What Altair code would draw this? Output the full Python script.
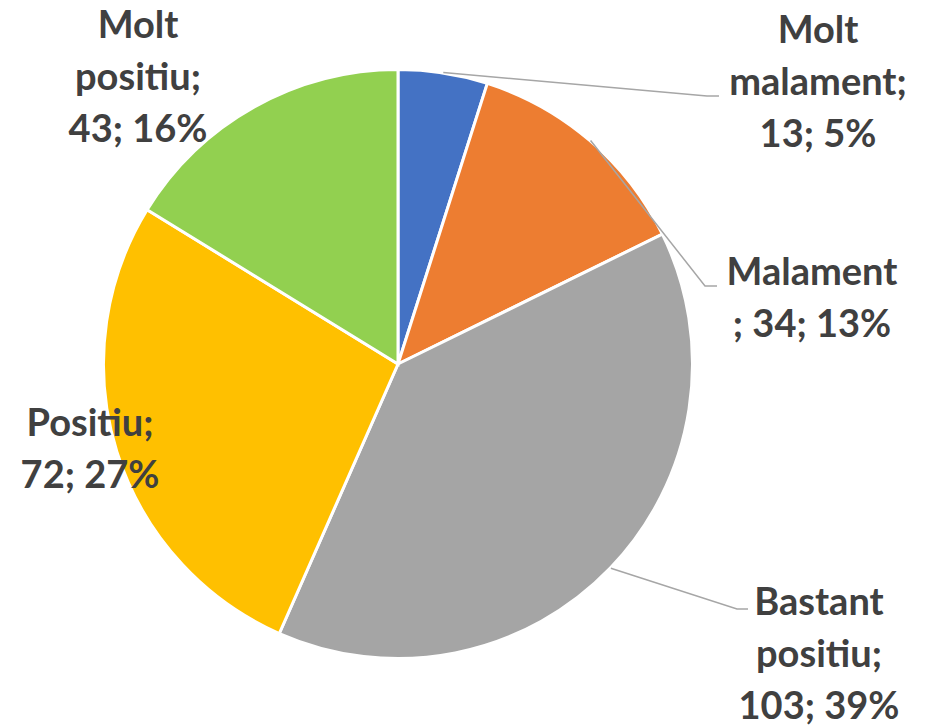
import math
import altair as alt
import pandas as pd

# ---- data ----
categories = ["Molt malament", "Malament", "Bastant positiu", "Positiu", "Molt positiu"]
values = [13, 34, 103, 72, 43]
colors = ["#4472C4", "#ED7D31", "#A5A5A5", "#FFC000", "#92D050"]

total = sum(values)
pcts = [round(v / total * 100) for v in values]

# label wrapping as in the original (text lines)
label_lines = {
    "Molt malament": ["Molt", "malament;", "{v}; {p}%"],
    "Malament": ["Malament", "; {v}; {p}%"],
    "Bastant positiu": ["Bastant", "positiu;", "{v}; {p}%"],
    "Positiu": ["Positiu;", "{v}; {p}%"],
    "Molt positiu": ["Molt", "positiu;", "{v}; {p}%"],
}

# ---- layout (pixels in the chart area) ----
W, H = 921, 719
CX, CY = 390, 356          # pie centre
R = 294.5                  # outer radius (incl. white border)
LEADER_R = 295             # leader start radius
label_pos = {              # label centre x, first baseline y
    "Molt malament": (810, 35),
    "Malament": (804, 277),
    "Bastant positiu": (811, 607),
    "Positiu": (82, 428),
    "Molt positiu": (130, 30),
}
leader_elbow = {           # elbow point and end x of leader lines
    "Molt malament": (699, 88, 711),
    "Malament": (697, 278, 709),
    "Bastant positiu": (729, 601, 740),
}

# ---- tables ----
pie_df = pd.DataFrame({"cat": categories, "value": values, "idx": range(len(values))})

rows_txt = []
for c, v, p in zip(categories, values, pcts):
    x, y = label_pos[c]
    txt = "\n".join(s.format(v=v, p=p) for s in label_lines[c])
    rows_txt.append({"cat": c, "x": x, "y": y, "txt": txt})
txt_df = pd.DataFrame(rows_txt)

rows_ld = []
cum = 0
for c, v in zip(categories, values):
    mid = (cum + v / 2) / total * 2 * math.pi
    cum += v
    if c in leader_elbow:
        ex, ey, endx = leader_elbow[c]
        sx = CX + LEADER_R * math.sin(mid)
        sy = CY - LEADER_R * math.cos(mid)
        rows_ld += [
            {"cat": c, "o": 0, "x": sx, "y": sy},
            {"cat": c, "o": 1, "x": ex, "y": ey},
            {"cat": c, "o": 2, "x": endx, "y": ey},
        ]
ld_df = pd.DataFrame(rows_ld)

xs = alt.Scale(domain=[0, W], nice=False, zero=False)
ys = alt.Scale(domain=[0, H], nice=False, zero=False, reverse=True)

pie = alt.Chart(pie_df).mark_arc(radius=R, stroke="white", strokeWidth=3).encode(
    theta=alt.Theta("value:Q", stack=True),
    color=alt.Color("cat:N", scale=alt.Scale(domain=categories, range=colors), legend=None),
    order=alt.Order("idx:Q"),
    x=alt.value(CX),
    y=alt.value(CY),
)

leaders = alt.Chart(ld_df).mark_line(color="#A6A6A6", strokeWidth=1.5).encode(
    x=alt.X("x:Q", scale=xs, axis=None),
    y=alt.Y("y:Q", scale=ys, axis=None),
    detail="cat:N",
    order="o:Q",
)

labels = alt.Chart(txt_df).mark_text(
    font="Lato", fontWeight="bold", fontSize=38, color="#404040",
    align="center", baseline="alphabetic", lineBreak="\n", lineHeight=52,
).encode(
    x=alt.X("x:Q", scale=xs, axis=None),
    y=alt.Y("y:Q", scale=ys, axis=None),
    text="txt:N",
)

chart = alt.layer(pie, leaders, labels).resolve_scale(color="independent").properties(
    width=W, height=H, padding=0, autosize=alt.AutoSizeParams(type="none"),
    background="white",
).configure_view(stroke=None)

chart.save("out.html", embed_options={"renderer": "svg", "actions": False})
